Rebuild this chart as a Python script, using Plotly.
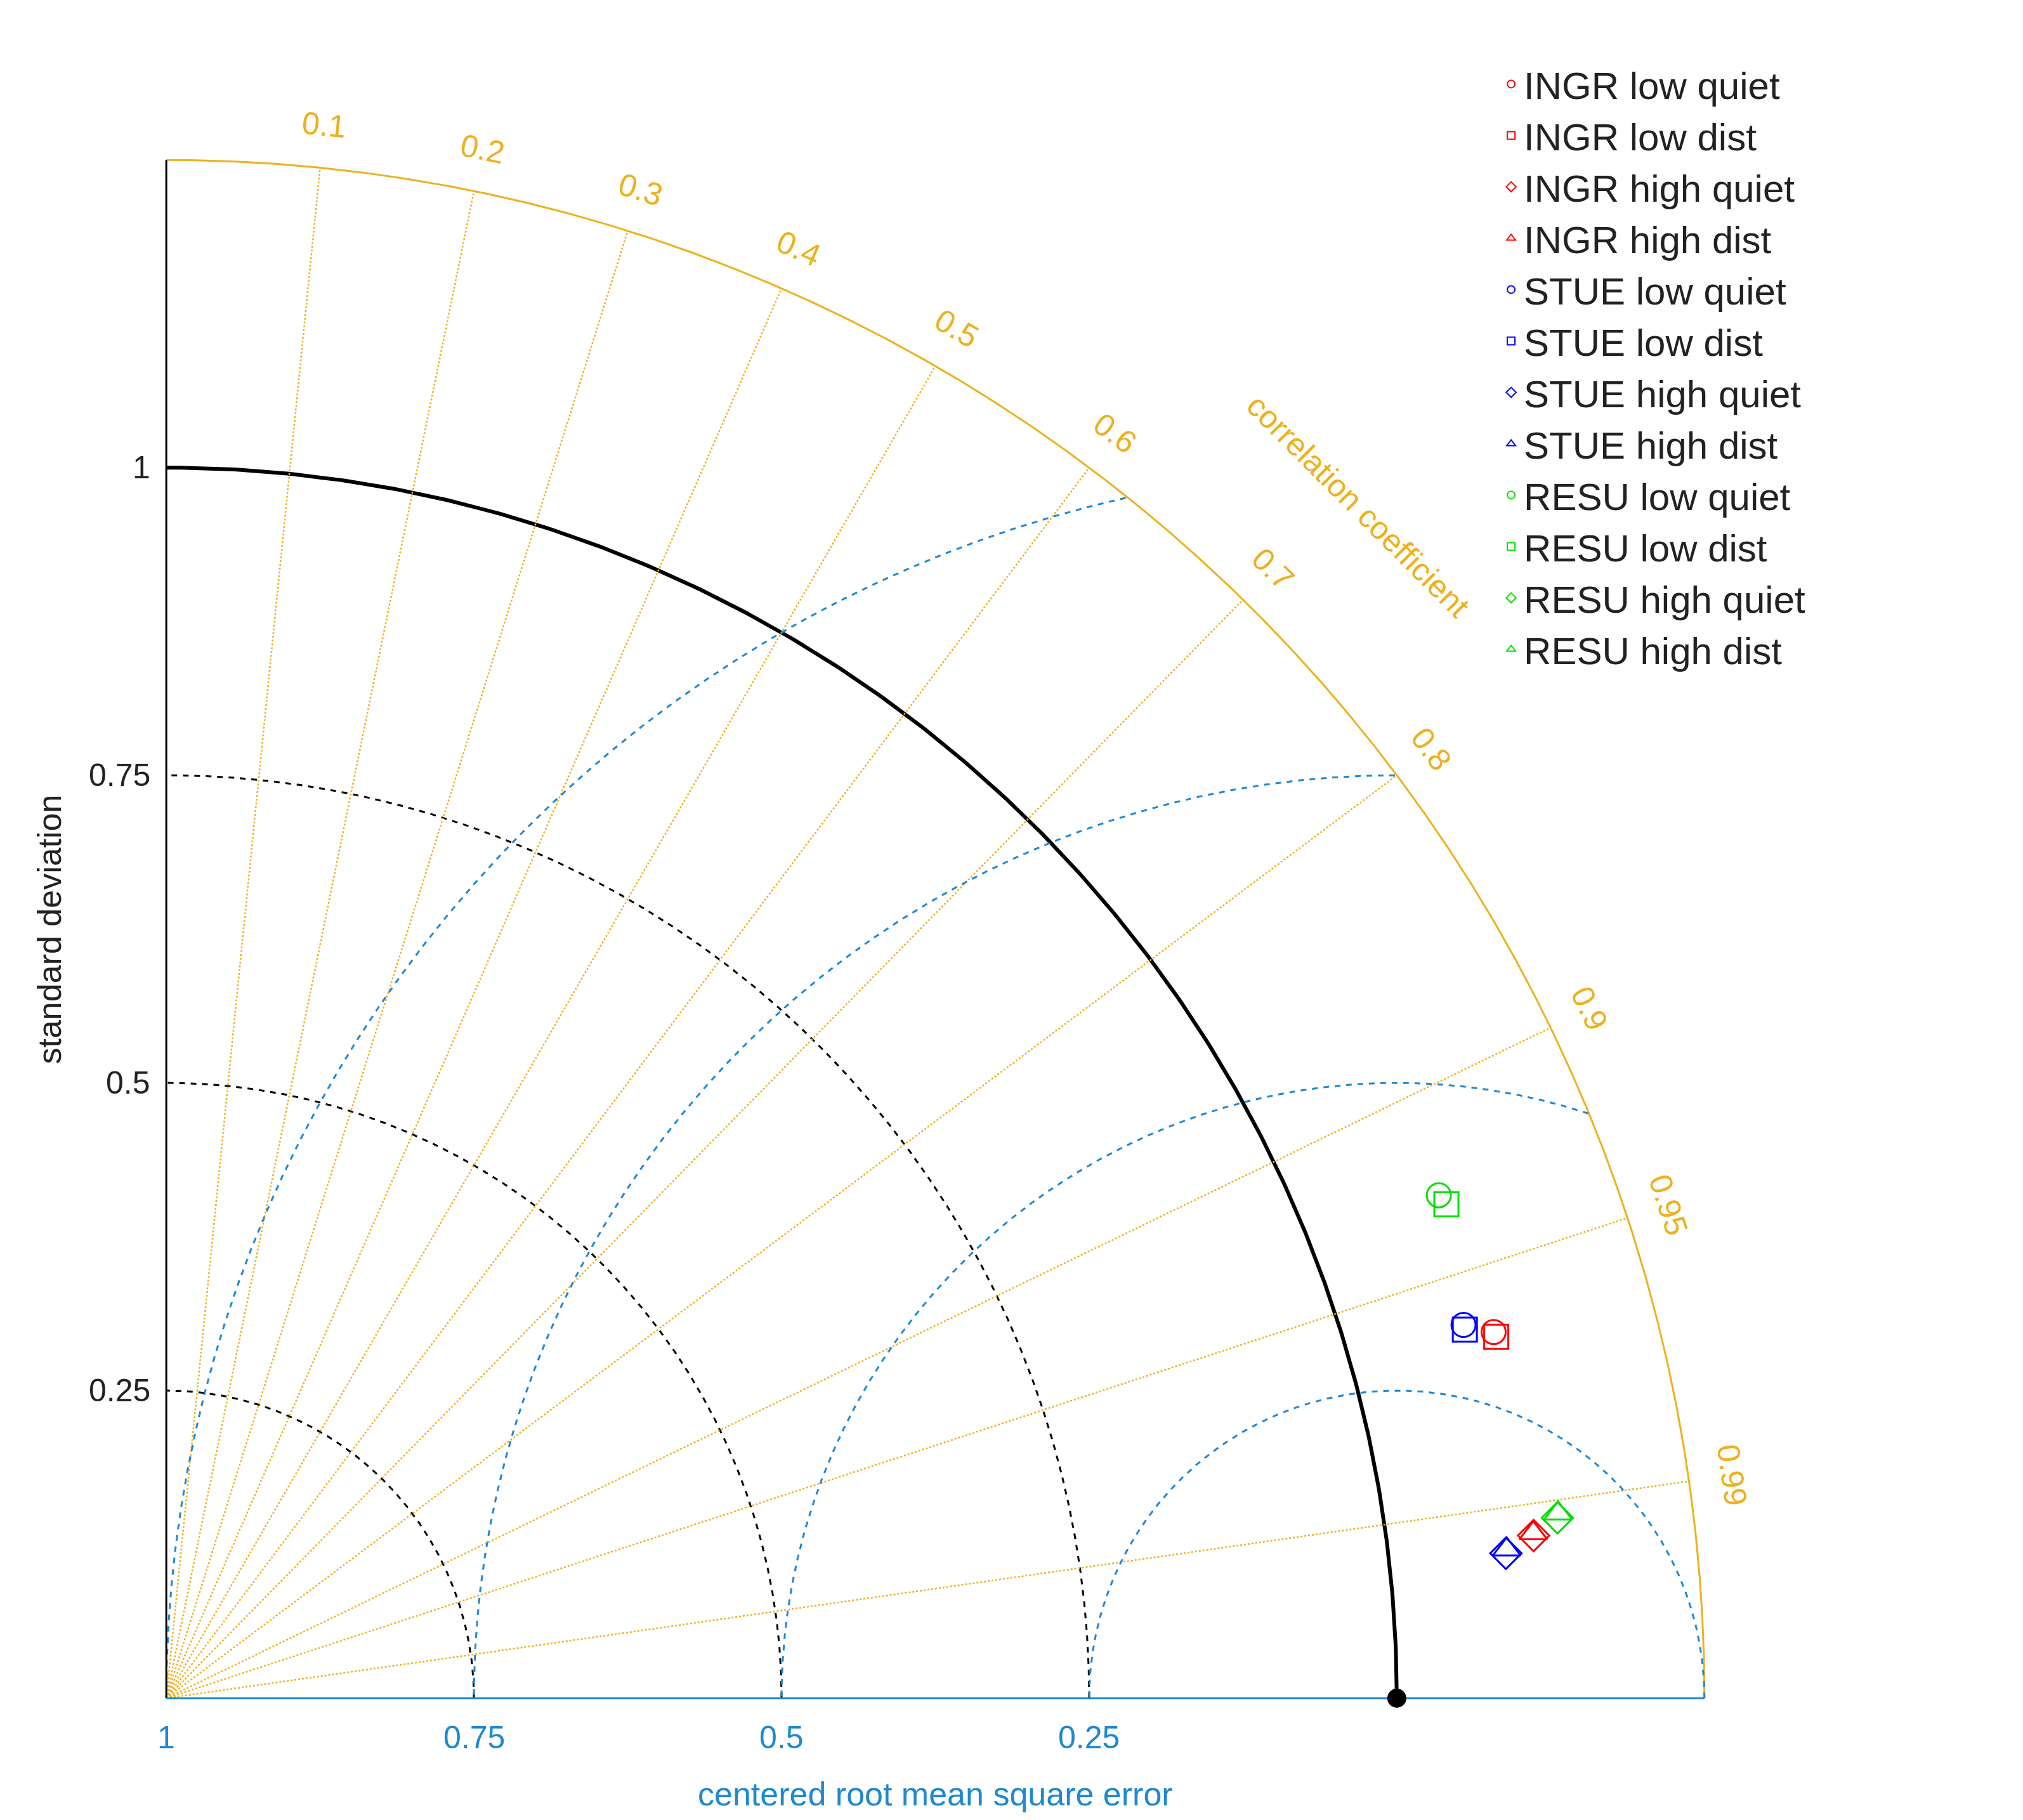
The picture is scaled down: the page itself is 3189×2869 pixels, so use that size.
import numpy as np
import plotly.graph_objects as go

names = ["INGR low quiet","INGR low dist","INGR high quiet","INGR high dist",
         "STUE low quiet","STUE low dist","STUE high quiet","STUE high dist",
         "RESU low quiet","RESU low dist","RESU high quiet","RESU high dist"]
stdev = [1.119,1.120,1.119,1.119, 1.097,1.097,1.095,1.096, 1.112,1.115,1.140,1.141]
corr  = [0.964,0.965,0.993,0.9928, 0.961,0.962,0.9942,0.9939, 0.930,0.933,0.9917,0.9913]
colors = ["#FF0000"]*4 + ["#0000FF"]*4 + ["#00E000"]*4
symbols = ["circle-open","square-open","diamond-open","triangle-up-open"]*3
corr_ticks = [0.1,0.2,0.3,0.4,0.5,0.6,0.7,0.8,0.9,0.95,0.99]
std_ticks = [0.25,0.5,0.75,1.0]
rms_ticks = [0.25,0.5,0.75,1.0]
RMAX = 1.25
ORANGE = "#EDB120"; BLUE = "#1E88D0"

fig = go.Figure()
t = np.linspace(0, np.pi/2, 400)
for s in std_ticks:
    fig.add_trace(go.Scatter(x=s*np.cos(t), y=s*np.sin(t), mode="lines", showlegend=False, hoverinfo="skip",
        line=dict(color="black", width=6 if s == 1.0 else 3, dash="solid" if s == 1.0 else "dash")))
fig.add_trace(go.Scatter(x=RMAX*np.cos(t), y=RMAX*np.sin(t), mode="lines", showlegend=False,
    line=dict(color=ORANGE, width=3), hoverinfo="skip"))
for c in corr_ticks:
    th = np.arccos(c)
    fig.add_trace(go.Scatter(x=[0, RMAX*np.cos(th)], y=[0, RMAX*np.sin(th)], mode="lines", showlegend=False,
        line=dict(color=ORANGE, width=2.5, dash="dot"), hoverinfo="skip"))
tt = np.linspace(0, np.pi, 800)
for r in rms_ticks:
    x = 1 + r*np.cos(tt); y = r*np.sin(tt)
    m = (np.hypot(x, y) <= RMAX + 1e-9) & (x >= -1e-9)
    fig.add_trace(go.Scatter(x=np.where(m, x, None), y=np.where(m, y, None), mode="lines", showlegend=False,
        line=dict(color=BLUE, width=3, dash="dash"), hoverinfo="skip"))
fig.add_trace(go.Scatter(x=[0, 0], y=[0, RMAX], mode="lines", line=dict(color="black", width=3), showlegend=False))
fig.add_trace(go.Scatter(x=[0, RMAX], y=[0, 0], mode="lines", line=dict(color=BLUE, width=3), showlegend=False))
fig.add_trace(go.Scatter(x=[1], y=[0], mode="markers", marker=dict(color="black", size=30), showlegend=False))
for n, s, c, col, sym in zip(names, stdev, corr, colors, symbols):
    th = np.arccos(c)
    fig.add_trace(go.Scatter(x=[s*np.cos(th)], y=[s*np.sin(th)], mode="markers", name=n,
        marker=dict(symbol=sym, size=38, color=col, line=dict(width=3, color=col))))

ann = []
for c in corr_ticks:
    th = np.arccos(c)
    ann.append(dict(x=1.285*np.cos(th), y=1.285*np.sin(th), text=str(c), showarrow=False,
        textangle=90-np.degrees(th), font=dict(color=ORANGE, size=50)))
ann.append(dict(x=1.37*np.cos(np.radians(45)), y=1.37*np.sin(np.radians(45)), text="correlation coefficient",
    showarrow=False, textangle=45, font=dict(color=ORANGE, size=50)))
for s in std_ticks:
    ann.append(dict(x=-0.012, y=s, text=f"{s:g}", showarrow=False, xanchor="right", font=dict(size=50, color="#222")))
for r in rms_ticks:
    ann.append(dict(x=1-r, y=-0.032, text=f"{r:g}", showarrow=False, font=dict(size=50, color=BLUE)))
ann.append(dict(x=-0.095, y=0.625, text="standard deviation", showarrow=False, textangle=-90, font=dict(size=52, color="#222")))
ann.append(dict(x=0.625, y=-0.078, text="centered root mean square error", showarrow=False, font=dict(size=52, color=BLUE)))

U = 1940
l = 255 - int(0.13*U); b = 2668 - 2869 + 0 
fig.update_layout(width=3189, height=2869, plot_bgcolor="white", paper_bgcolor="white",
    margin=dict(l=2, r=3189-2-int(1.41*U), t=2869-6-int(1.38*U), b=6), annotations=ann,
    font=dict(family="Liberation Sans, Arial"),
    xaxis=dict(range=[-0.13, 1.28], visible=False),
    yaxis=dict(range=[-0.1, 1.28], visible=False),
    legend=dict(x=0.86, y=1.04, xanchor="left", yanchor="top", font=dict(size=60, color="#222"),
                bgcolor="rgba(0,0,0,0)", itemsizing="constant"))
fig.write_html("out.html")
